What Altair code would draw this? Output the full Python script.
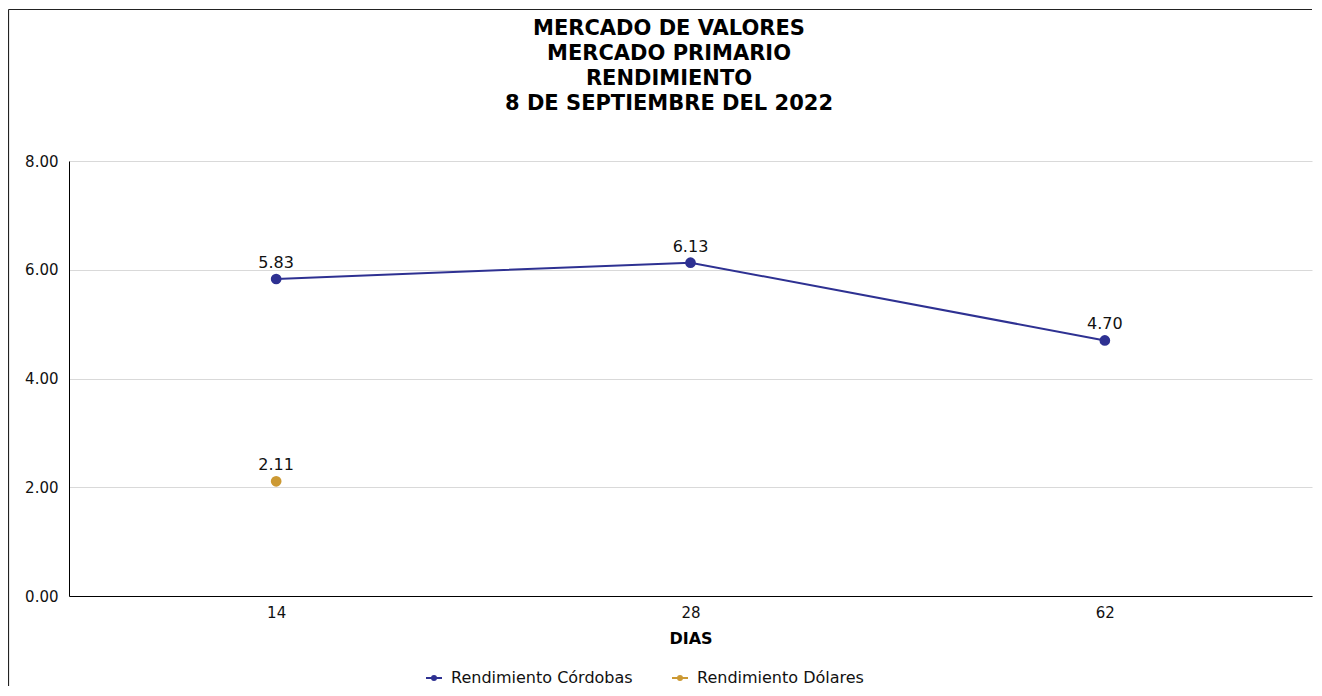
import altair as alt
import pandas as pd

# ---- data ----
dias = ["14", "28", "62"]
cordobas = [5.83, 6.13, 4.70]
dolares_dias = ["14"]
dolares = [2.11]
series_names = ["Rendimiento Córdobas", "Rendimiento Dólares"]
series_colors = ["#2E3192", "#CC9933"]
title_lines = ["MERCADO DE VALORES", "MERCADO PRIMARIO", "RENDIMIENTO", "8 DE SEPTIEMBRE DEL 2022"]
y_ticks = [0, 2, 4, 6, 8]

rows = [{"dias": d, "serie": series_names[0], "valor": v} for d, v in zip(dias, cordobas)]
rows += [{"dias": d, "serie": series_names[1], "valor": v} for d, v in zip(dolares_dias, dolares)]
df = pd.DataFrame(rows)

FONT = "DejaVu Sans"
W, H = 1243, 435

legend_path = "M-1,0H1M-0.25,0A0.25,0.25 0 1,1 0.25,0A0.25,0.25 0 1,1 -0.25,0Z"

x_enc = alt.X("dias:N", sort=dias,
              scale=alt.Scale(type="point", padding=0.5),
              axis=alt.Axis(title="DIAS", labelAngle=0, grid=False, ticks=False,
                            labelPadding=9, titlePadding=10))
y_enc = alt.Y("valor:Q", scale=alt.Scale(domain=[0, 8], nice=False),
              axis=alt.Axis(title=None, values=y_ticks, format=".2f", ticks=False,
                            labelPadding=11, grid=True))
color_enc = alt.Color("serie:N",
                      scale=alt.Scale(domain=series_names, range=series_colors),
                      legend=alt.Legend(title=None, orient="none", direction="horizontal",
                                        legendX=356, legendY=508,
                                        symbolType=legend_path, symbolSize=256,
                                        symbolStrokeWidth=2, columnPadding=35,
                                        labelFontSize=16, labelOffset=8, labelLimit=400))

base = alt.Chart(df).encode(x=x_enc, y=y_enc, color=color_enc)

points = base.mark_point(filled=True, size=115, opacity=1)
line = base.mark_line(strokeWidth=2)
labels = base.mark_text(dy=-16, fontSize=16, font=FONT).encode(
    text=alt.Text("valor:Q", format=".2f"), color=alt.value("#111111"))

one_df = pd.DataFrame({"k": [0]})
top_border = alt.Chart(one_df).mark_rule(color="#222222", strokeWidth=1.2).encode(
    x=alt.value(-60.5), x2=alt.value(W), y=alt.value(-151.5))
left_border = alt.Chart(one_df).mark_rule(color="#222222", strokeWidth=1.2).encode(
    x=alt.value(-60.5), y=alt.value(-151.5), y2=alt.value(H + 90))
title = alt.Chart(one_df).mark_text(
    text=title_lines, font=FONT, fontSize=21, fontWeight="bold", color="#000000",
    lineHeight=25, align="center", baseline="top").encode(
    x=alt.value(600), y=alt.value(-143))

chart = alt.layer(top_border, left_border, points, line, labels, title).properties(
    width=W, height=H,
    autosize=alt.AutoSizeParams(type="none"),
    padding={"left": 61, "top": 153, "right": 2, "bottom": 90},
).configure_view(stroke="transparent", strokeWidth=0).configure_axis(
    labelFont=FONT, labelFontSize=15, labelColor="#111111",
    titleFont=FONT, titleFontSize=16, titleFontWeight="bold", titleColor="#000000",
    domainColor="#000000", domainWidth=1, gridColor="#D9D9D9", gridWidth=1,
).configure_legend(labelFont=FONT, labelColor="#111111")

chart.save("out.html", embed_options={"renderer": "svg", "actions": False})
